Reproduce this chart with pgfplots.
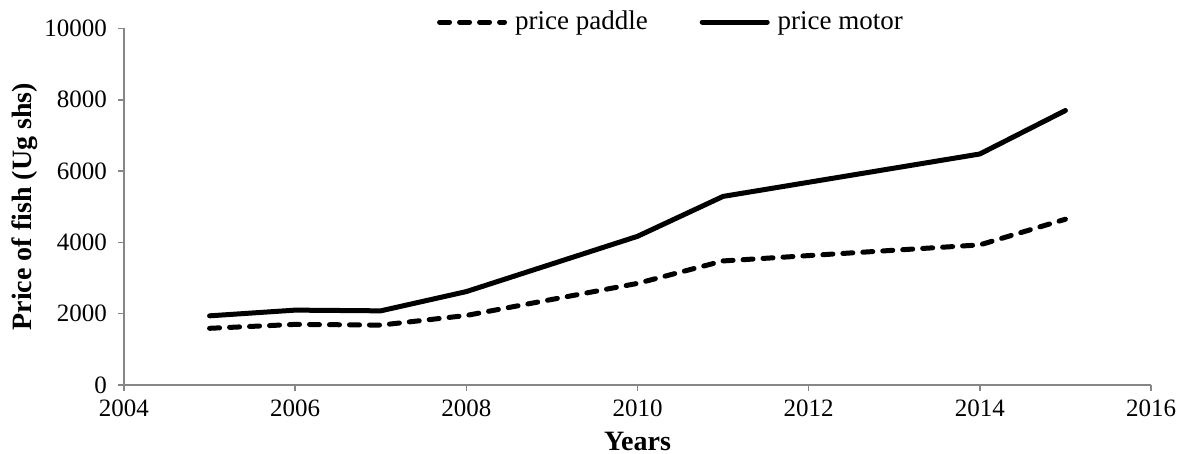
\documentclass[border=0pt]{standalone}
\usepackage{fontspec}
\setmainfont{Liberation Serif}
\usepackage{pgfplots}
\pgfplotsset{compat=1.18}
\definecolor{axisgrey}{HTML}{868686}

\begin{document}
\begin{tikzpicture}
% page = 1179x454 px at 0.5pt per px
\useasboundingbox (0,0) rectangle (589.5pt,227pt);
\begin{axis}[
  at={(62pt,34.5pt)}, anchor=south west,
  width=513.5pt, height=178.25pt, scale only axis,
  xmin=2004, xmax=2016, ymin=0, ymax=10000,
  xtick={2004,2006,...,2016},
  ytick={0,2000,...,10000},
  scaled ticks=false,
  /pgf/number format/1000 sep={},
  /pgf/number format/fixed,
  /pgf/number format/assume math mode=true,
  axis x line*=bottom, axis y line*=left,
  axis line style={axisgrey, line width=0.8pt, -},
  tick align=outside, tick style={axisgrey, line width=0.8pt},
  major tick length=3pt,
  tick label style={font=\fontsize{12.5}{14}\selectfont},
  xticklabel style={yshift=-1pt},
  yticklabel style={xshift=-2pt},
  xlabel={\textbf{Years}}, ylabel={\textbf{Price of fish (Ug shs)}},
  label style={font=\fontsize{14}{16}\selectfont},
  xlabel style={at={(axis description cs:0.5,0)}, anchor=center, inner sep=0.5pt, yshift=-28pt},
  ylabel style={at={(axis description cs:0,0.5)}, anchor=center, yshift=49.5pt},
  legend columns=2,
  legend style={draw=none, fill=none, at={(0.5336,1.018)}, anchor=center,
    font=\fontsize{13.5}{15}\selectfont,
    /tikz/every odd column/.append style={column sep=2pt},
    /tikz/every even column/.append style={column sep=24pt}},
  legend image code/.code={\draw[#1] (0pt,0pt) -- (32.5pt,0pt);},
  clip=false,
]
\addplot[black, line width=2.5pt, line cap=round, dash pattern=on 5pt off 5pt] coordinates {
  (2005,1590) (2006,1700) (2007,1680) (2008,1950) (2010,2850) (2011,3480) (2014,3930) (2015,4650)};
\addlegendentry{price paddle}
\addplot[black, line width=2.5pt, line cap=round, line join=round] coordinates {
  (2005,1940) (2006,2100) (2007,2080) (2008,2620) (2010,4170) (2011,5290) (2014,6480) (2015,7700)};
\addlegendentry{price motor}
\end{axis}
\end{tikzpicture}
\end{document}
